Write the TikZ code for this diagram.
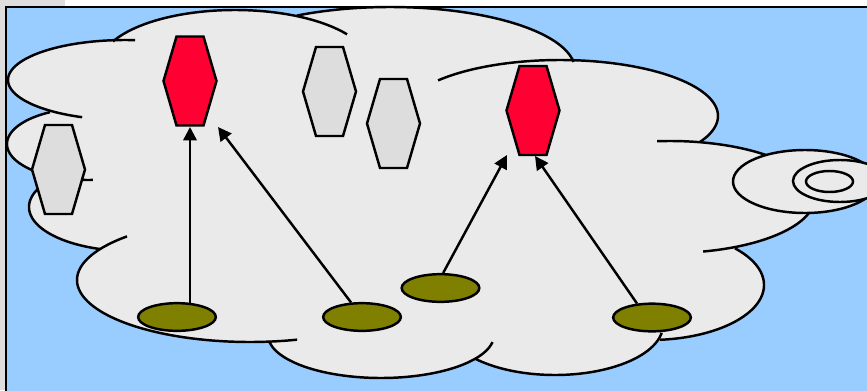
\documentclass[tikz,border=0pt]{standalone}
\usetikzlibrary{arrows.meta,shapes.geometric}
\definecolor{skyb}{HTML}{99CCFF}
\definecolor{cloudc}{HTML}{EAEAEA}
\definecolor{hexg}{HTML}{DDDDDD}
\definecolor{hexr}{HTML}{FF0033}
\definecolor{olivec}{HTML}{808000}
\definecolor{tlg}{HTML}{DEDEDE}
\begin{document}
\begin{tikzpicture}[x=0.03cm,y=-0.03cm,
  cloudline/.style={line width=2.1pt},
  hexa/.pic={\draw[line width=2.1pt,pic actions,line join=miter] (-26.5,0) -- (-13.5,-44.5) -- (13.5,-44.5) -- (26.5,0) -- (13.5,44.5) -- (-13.5,44.5) -- cycle;},
  pad/.style={ellipse, draw, line width=2.1pt, fill=olivec, minimum width=2.33cm, minimum height=0.83cm, inner sep=0pt},
  bubble/.style={ellipse, draw, line width=2.1pt, fill=cloudc, inner sep=0pt},
  arr/.style={line width=2.1pt, -{Triangle[length=11.5pt,width=11.5pt]}},
]
\useasboundingbox (0,0) rectangle (867,390);
\clip (0,0) rectangle (867,390);
% background
\fill[white] (0,0) rectangle (867,390);
\fill[tlg] (0,0) rectangle (65,6);
\fill[tlg] (0,0) rectangle (5,390);
\draw[fill=skyb, line width=2pt] (6,7) rectangle (900,420);
% cloud fill
\fill[cloudc] (113,41.5) -- (297,16) -- (573.5,62) -- (700,142) -- (765,155) -- (808,213) -- (735,248) -- (661,338) -- (475,358.7) -- (270,341) -- (100,249) -- (38,189) -- (33,167) -- (50,112) -- cycle;
\foreach \cx/\cy/\rx/\ry in {125/80/117/40, 235/65/135/55, 390/70/185/63, 560/116/158/56, 670/197/145/56, 650/285/114/55, 555/325/108/50, 381/335/113/43, 250/280/173/62, 130/207/101/44, 88/144/81/36}{
  \fill[cloudc] plot[domain=0:360,samples=90,variable=\t] ({\cx+\rx*cos(\t)},{\cy+\ry*sin(\t)}) -- cycle;
}
% cloud outline
\foreach \cx/\cy/\rx/\ry/\a/\b in {125/80/117/40/111.5/275, 235/65/135/55/-154.7/-33.9, 390/70/185/63/-120.2/-7.3, 560/116/158/56/-140.5/27.7, 670/197/145/56/-95.1/76.8, 650/285/114/55/-41.8/85, 555/325/108/50/9/137.8, 381/335/113/43/9.4/172, 250/280/173/62/74.2/224.7, 130/207/101/44/107.3/204.3, 88/144/81/36/86.5/242}{
  \draw[cloudline] plot[domain=\a:\b,samples=80,smooth,variable=\t] ({\cx+\rx*cos(\t)},{\cy+\ry*sin(\t)});
}
% callout bubbles
\node[bubble, minimum width=4.32cm, minimum height=1.89cm] (bub) at (805,181.5) {};
\node[bubble, minimum width=2.82cm, minimum height=1.26cm] (ringa) at (840,181) {};
\node[bubble, minimum width=1.41cm, minimum height=0.63cm] (ringb) at (829.5,181.5) {};
% hexagons
\pic[fill=hexr] (h1) at (190,81) {hexa};
\pic[fill=hexg] (g1) at (58.5,169.5) {hexa};
\pic[fill=hexg] (g2) at (329.5,91.5) {hexa};
\pic[fill=hexg] (g3) at (393.5,123.5) {hexa};
\pic[fill=hexr] (h2) at (533,110.5) {hexa};
% pads
\node[pad] (e1) at (177,317) {};
\node[pad] (e2) at (362,317) {};
\node[pad] (e3) at (440.5,288) {};
\node[pad] (e4) at (652,317.5) {};
% arrow tips
\coordinate (t1) at (190,127);
\coordinate (t2) at (218,127);
\coordinate (t3) at (507,155);
\coordinate (t4) at (535,156);
\coordinate (s1) at (190,303);
\draw[arr] (s1) -- (t1);
\draw[arr] (e2.127) -- (t2);
\draw[arr] (e3.80) -- (t3);
\draw[arr] (e4.137) -- (t4);
\end{tikzpicture}
\end{document}
